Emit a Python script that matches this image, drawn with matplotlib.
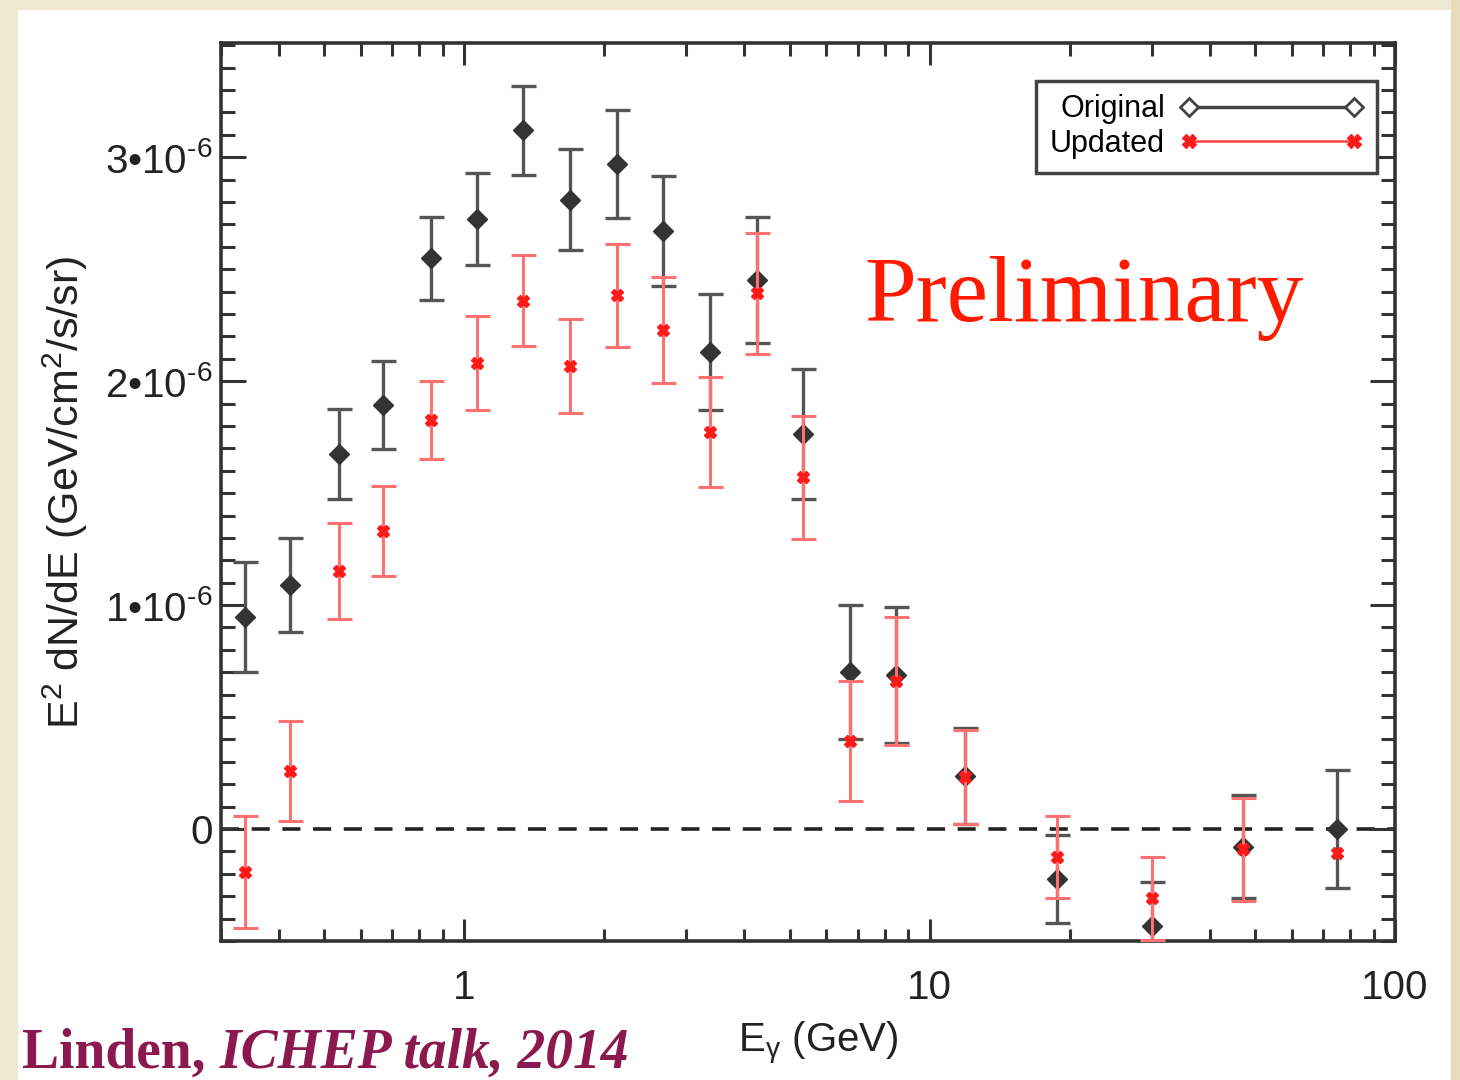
import numpy as np
import matplotlib
matplotlib.use("Agg")
import matplotlib.pyplot as plt
from matplotlib.lines import Line2D
from matplotlib.patches import Rectangle
from matplotlib.ticker import FixedLocator, NullFormatter, MultipleLocator

plt.rcParams['font.family'] = ['Liberation Sans', 'DejaVu Sans']
plt.rcParams['mathtext.fontset'] = 'custom'
plt.rcParams['mathtext.rm'] = 'Liberation Sans'
plt.rcParams['mathtext.it'] = 'Liberation Sans:italic'

# energy bins (GeV)
energy = [0.337, 0.423, 0.537, 0.670, 0.846, 1.066, 1.34, 1.687, 2.13, 2.67,
          3.37, 4.25, 5.34, 6.74, 8.45, 11.9, 18.8, 30.1, 47.2, 75.1]

# E^2 dN/dE in units of 1e-6 GeV/cm^2/s/sr
orig_flux = [0.946, 1.089, 1.674, 1.893, 2.549, 2.723, 3.12, 2.81, 2.97, 2.67,
             2.13, 2.451, 1.763, 0.70, 0.688, 0.237, -0.223, -0.433, -0.08, 0.0]
orig_err = [0.245, 0.21, 0.20, 0.195, 0.185, 0.205, 0.20, 0.225, 0.24, 0.245,
            0.26, 0.28, 0.29, 0.30, 0.305, 0.215, 0.197, 0.196, 0.23, 0.265]

upd_flux = [-0.19, 0.259, 1.152, 1.33, 1.826, 2.08, 2.36, 2.067, 2.384, 2.228,
            1.772, 2.393, 1.571, 0.393, 0.66, 0.232, -0.125, -0.309, -0.09, -0.107]
upd_err = [0.25, 0.225, 0.215, 0.20, 0.175, 0.21, 0.205, 0.21, 0.23, 0.235,
           0.245, 0.27, 0.275, 0.27, 0.285, 0.21, 0.185, 0.185, 0.23, np.nan]

fig = plt.figure(figsize=(14.6, 10.8), dpi=100)
fig.patch.set_facecolor('#efe9d2')
fig.patches.append(Rectangle((18 / 1460, 0), (1451 - 18) / 1460, 1 - 10 / 1080,
                             transform=fig.transFigure, facecolor='white',
                             edgecolor='none', zorder=-5))
fig.patches.append(Rectangle((1451 / 1460, 0), 9 / 1460, 1,
                             transform=fig.transFigure, facecolor='#e6dcb8',
                             edgecolor='none', zorder=-5))

ax = fig.add_axes([221 / 1460, 139 / 1080, 1174 / 1460, 898 / 1080])
ax.set_zorder(5)
ax.set_facecolor('white')
ax.set_xscale('log')
ax.set_xlim(0.3, 100)
ax.set_ylim(-0.5, 3.51)

ax.axhline(0, color='#222222', lw=2.6, ls=(0, (5, 3.5)), zorder=1)

ax.errorbar(energy, orig_flux, yerr=orig_err, fmt='D', ms=10, color='#333333',
            mfc='#333333', mec='#333333', ecolor='#555555', elinewidth=2.4,
            capsize=9, capthick=2.4, zorder=2)
ax.errorbar(energy, upd_flux, yerr=upd_err, fmt='X', ms=9, color='#ff1a1a',
            mfc='#ff1a1a', mec='#ff1a1a', ecolor='#ff7070', elinewidth=2.2,
            capsize=9, capthick=2.2, zorder=3)

for s in ax.spines.values():
    s.set_linewidth(2.6)
    s.set_color('#333333')

ax.tick_params(which='both', direction='in', top=True, right=True, colors='#333333',
               width=2.2, labelcolor='#222222')
ax.tick_params(axis='y', which='major', length=18)
ax.tick_params(axis='y', which='minor', length=10)
ax.tick_params(axis='x', which='major', length=16, pad=20)
ax.tick_params(axis='x', which='minor', length=9)

ax.xaxis.set_major_locator(FixedLocator([1, 10, 100]))
ax.set_xticklabels(['1', '10', '100'], fontsize=29)
ax.xaxis.set_minor_formatter(NullFormatter())

ax.yaxis.set_major_locator(FixedLocator([0, 1, 2, 3]))
ax.yaxis.set_minor_locator(MultipleLocator(0.1))
ax.set_yticklabels(['0', r'$\mathregular{1•10^{\text{-}6}}$', r'$\mathregular{2•10^{\text{-}6}}$',
                    r'$\mathregular{3•10^{\text{-}6}}$'], fontsize=29)
ax.tick_params(axis='y', pad=6)

ax.set_xlabel(r'$\mathregular{E_{\gamma}}$ (GeV)', fontsize=29, color='#222222')
ax.xaxis.set_label_coords(0.5085, -0.088)
ax.set_ylabel(r'$\mathregular{E^2}$ dN/dE (GeV/cm$\mathregular{^2}$/s/sr)', fontsize=31,
              color='#222222', va='center')
ax.yaxis.set_label_coords(-0.133, 0.5)

ax.text(0.548, 0.69, 'Preliminary', transform=ax.transAxes, fontsize=67,
        color='#ff1a00', family='Liberation Serif', ha='left', va='baseline')

handles = [Line2D([0], [0], color='#444444', lw=2.5, marker='D', ms=9, mfc='white',
                  mec='#444444', mew=2),
           Line2D([0], [0], color='#ff4040', lw=1.8, marker='X', ms=10, mfc='#ff1a1a',
                  mec='#ff1a1a')]
leg = ax.legend(handles, ['Original', 'Updated'], loc='upper right',
                bbox_to_anchor=(0.985, 0.958), markerfirst=False, numpoints=2,
                handlelength=6.0, fontsize=22, fancybox=False, framealpha=1,
                edgecolor='#444444', borderaxespad=0, labelspacing=0.15,
                handletextpad=0.5, borderpad=0.45)
leg.get_frame().set_linewidth(2.5)

t1 = fig.text(22 / 1460, 0.5 / 1080, 'Linden, ', fontsize=40, family='Liberation Serif',
              weight='bold', color='#8c1850', ha='left', va='bottom', zorder=6)
fig.add_artist(matplotlib.text.Annotation(
    'ICHEP talk, 2014', xy=(1, 0), xycoords=t1, fontsize=40,
    family='Liberation Serif', weight='bold', style='italic', color='#8c1850',
    ha='left', va='bottom', zorder=6))

fig.savefig('out.png', dpi=100, facecolor=fig.get_facecolor())
